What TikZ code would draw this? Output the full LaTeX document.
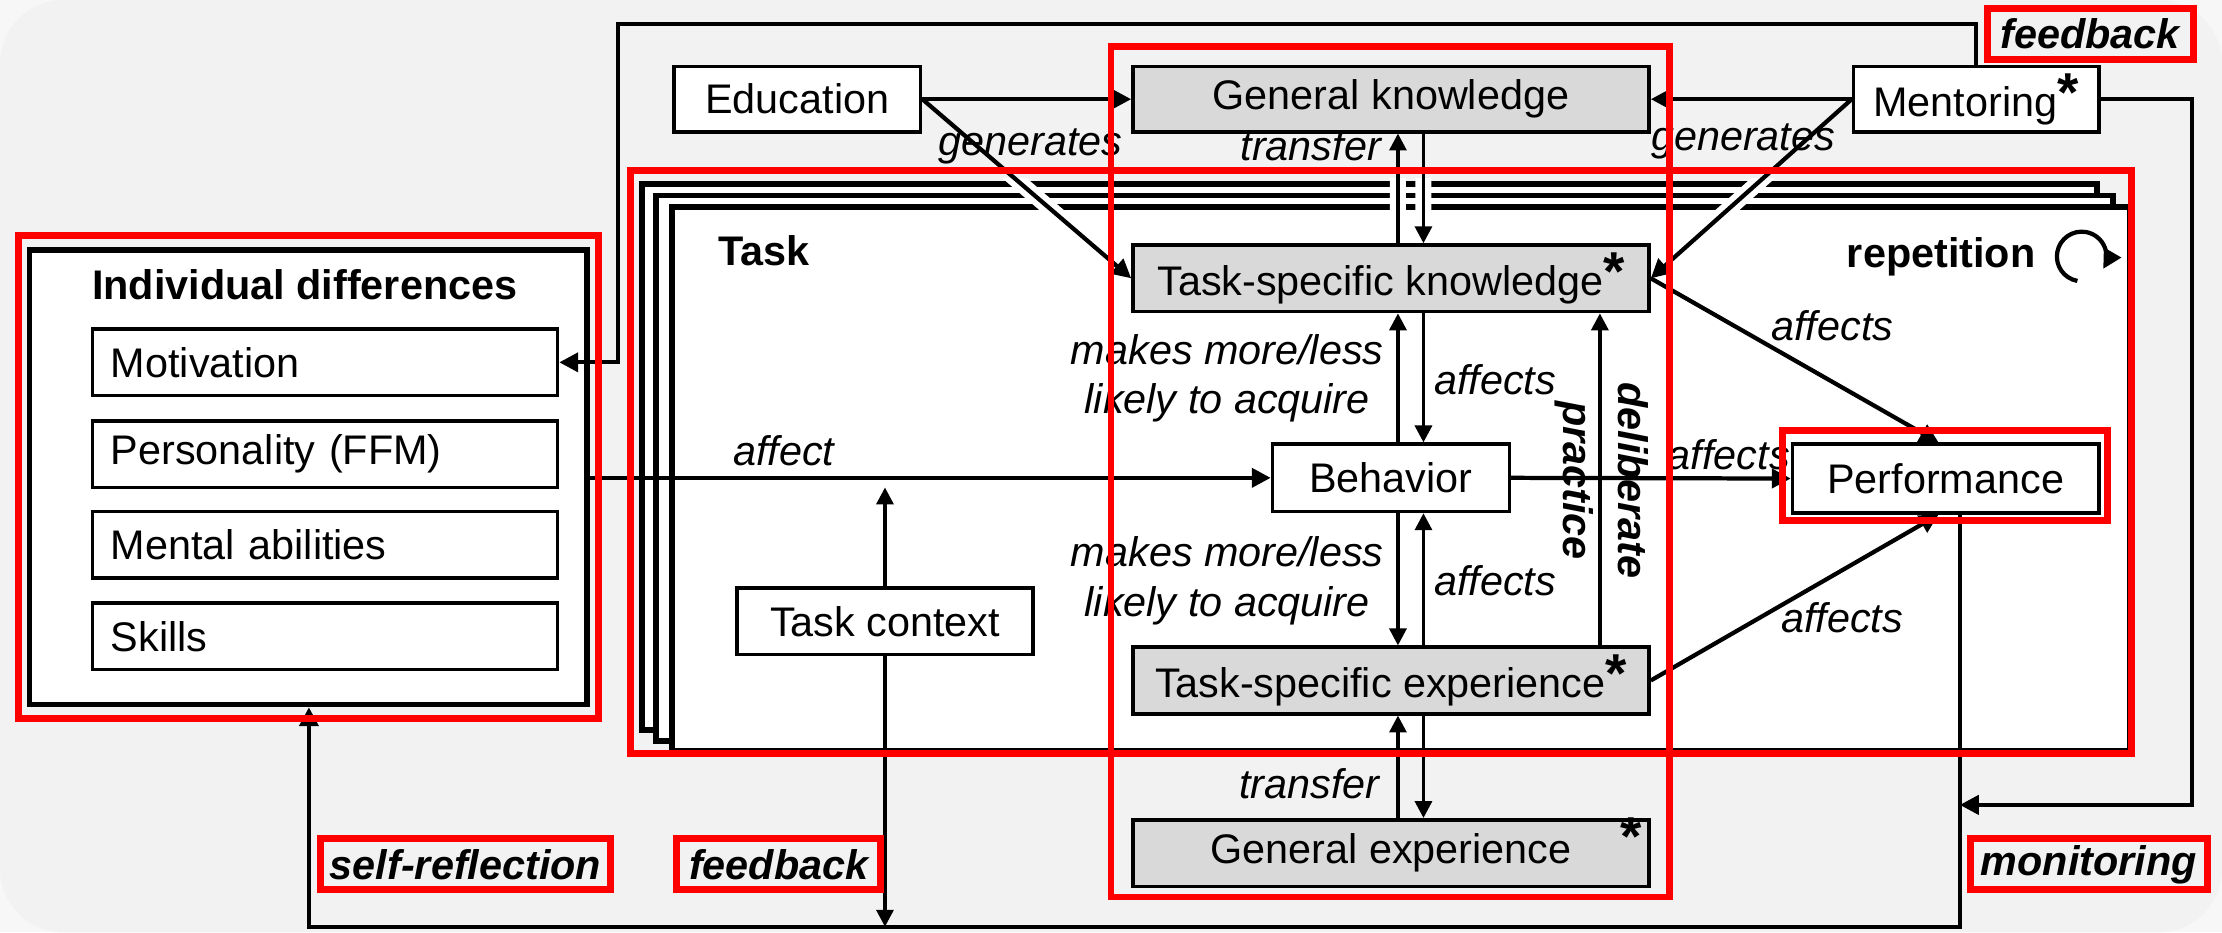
\documentclass[tikz,border=0pt]{standalone}
\usepackage{fontspec}
\setmainfont{Liberation Sans}
\usetikzlibrary{arrows.meta,calc}
\definecolor{bgout}{HTML}{F7F7F7}
\definecolor{bgin}{HTML}{F2F2F2}
\definecolor{boxgray}{HTML}{D9D9D9}
\newcommand\astk{\raisebox{0.25ex}{\fontsize{11}{11}\selectfont\bfseries *}}
\begin{document}
\begin{tikzpicture}[x=0.01cm,y=-0.01cm,
  every node/.style={font=\fontsize{8.3}{10}\selectfont},
  box/.style={draw, line width=0.7pt, fill=white, inner sep=0pt, minimum height=0.47cm},
  gbox/.style={box, fill=boxgray, minimum width=3.64cm},
  sub/.style={box, anchor=west, text width=3.02cm, inner xsep=0.13cm, align=left},
  stackrect/.style={draw, line width=1.15pt, fill=white},
  lbl/.style={font=\fontsize{8.3}{10}\selectfont\itshape, inner sep=1pt},
  bilbl/.style={font=\fontsize{8.3}{11}\selectfont\bfseries\itshape, inner sep=1pt},
  ttl/.style={font=\fontsize{8.3}{10}\selectfont\bfseries, inner sep=0pt},
  arr/.style={line width=0.7pt, -{Triangle[length=3.4pt,width=3.4pt]}},
  arrm/.style={line width=0.85pt, -{Triangle[length=3.8pt,width=3.8pt]}},
  redbox/.style={draw=red, line width=1.4pt},
  redlbl/.style={redbox, font=\fontsize{8.3}{10}\selectfont\bfseries\itshape, inner sep=0pt, minimum height=0.36cm}
]
% background
\fill[bgout] (0,0) rectangle (1568,658);
\fill[bgin, rounded corners=0.45cm] (0,0) rectangle (1568,658);
\useasboundingbox (0,0) rectangle (1568,658);

% task stack
\draw[stackrect] (453,130) rectangle (1480,515);
\draw[stackrect] (463,138) rectangle (1491,523);
\draw[stackrect] (474,146) rectangle (1503,530);
\node[ttl, anchor=west] (tasklbl) at (506,177) {Task};
\node[ttl, anchor=east] (replbl) at (1437,181) {repetition};
\coordinate (repc) at (1469,181);
\draw[line width=0.85pt, -{Triangle[length=3.8pt,width=3.8pt]}] ([shift={(-100:0.175cm)}]repc) arc[start angle=-100, end angle=-390, radius=0.175cm];

% individual differences
\node[draw, line width=1.15pt, fill=white, inner sep=0pt, minimum width=3.93cm, minimum height=3.205cm] (idbox) at (217.5,336.75) {};
\node[ttl] (idt) at (215,201) {Individual differences};
\node[sub] (motiv) at (64,255.7) {Motivation};
\node[sub] (pers) at (64,320.5) {Personality (FFM)};
\node[sub] (mabil) at (64,384.3) {Mental abilities};
\node[sub] (skills) at (64,449.1) {Skills};

% main nodes
\node[box, minimum width=1.74cm, minimum height=0.46cm] (edu) at (562.6,70) {Education};
\node[gbox, minimum height=0.46cm] (gk) at (981.6,70) {General knowledge};
\node[box, minimum width=1.73cm, minimum height=0.46cm] (ment) at (1394.5,70) {Mentoring\astk};
\node[gbox] (tsk) at (981.6,196.4) {Task-specific knowledge\astk};
\node[box, minimum width=1.67cm, minimum height=0.475cm] (beh) at (981.5,337.2) {Behavior};
\node[gbox] (tse) at (981.6,480.2) {Task-specific experience\astk};
\node[gbox] (ge) at (981.6,602) {General experience};
\node[inner sep=0pt] (gestar) at (1151,592) {\astk};
\node[box, minimum width=2.16cm, minimum height=0.485cm] (perf) at (1373,337.7) {Performance};
\node[box, minimum width=2.09cm] (tc) at (624.5,438.5) {Task context};

% coordinates
\coordinate (cL) at (986.5,0);
\coordinate (cR) at (1004.5,0);
\coordinate (cD) at (1129,0);
\coordinate (pa) at (1368,0);
\coordinate (tl) at (436,17);
\coordinate (rr) at (1547,568);
\coordinate (mon) at (1383,568);
\coordinate (bl) at (218,654);
\coordinate (br) at (1383,654);
\coordinate (tcup) at (624.5,344);

% white halos where arrows cross the stack
\begin{scope}
\clip (440,126) rectangle (1520,152);
\draw[white, line width=3.2pt] (edu.east) -- (tsk.west) (ment.west) -- (tsk.east)
  (tsk.north -| cL) -- (gk.south -| cL) (gk.south -| cR) -- (tsk.north -| cR);
\end{scope}

% connectors
\draw[arrm] (edu.east) -- (gk.west);
\draw[arrm] (ment.west) -- (gk.east);
\draw[arrm] (edu.east) -- (tsk.west);
\draw[arrm] (ment.west) -- (tsk.east);
\draw[arr] (tsk.north -| cL) -- (gk.south -| cL);
\draw[arr] (gk.south -| cR) -- (tsk.north -| cR);
\draw[arr] (beh.north -| cL) -- (tsk.south -| cL);
\draw[arr] (tsk.south -| cR) -- (beh.north -| cR);
\draw[arr] (beh.south -| cL) -- (tse.north -| cL);
\draw[arr] (tse.north -| cR) -- (beh.south -| cR);
\draw[arr] (ge.north -| cL) -- (tse.south -| cL);
\draw[arr] (tse.south -| cR) -- (ge.north -| cR);
\draw[arr] (tse.north -| cD) -- (tsk.south -| cD);
\draw[arrm] (idbox.east |- beh.west) -- (beh.west);
\draw[arrm] (beh.east) -- (perf.west);
\draw[arrm] (tsk.east) -- (perf.north -| pa);
\draw[arrm] (tse.east) -- (perf.south -| pa);
\draw[arr] (tc.north) -- (tcup);
\draw[arr] (tc.south) -- (tc.south |- bl);
\draw[arrm] (perf.south -| br) -- (br) -- (bl) -- (idbox.south -| bl);
\draw[arrm] (ment.north) |- (tl) |- (motiv.east);
\draw[arrm] (ment.east) -| (rr) -- (mon);

% labels
\node[lbl] (gen1) at (727,103) {generates};
\node[lbl] (gen2) at (1230,100) {generates};
\node[lbl] (tr1) at (925,103) {transfer};
\node[lbl] (tr2) at (924,553) {transfer};
\node[lbl] (aff0) at (553,318) {affect};
\node[lbl, align=center] (mk1) at (866,267) {makes more/less\\likely to acquire};
\node[lbl, align=center] (mk2) at (866,410) {makes more/less\\likely to acquire};
\node[lbl] (af1) at (1055,268) {affects};
\node[lbl] (af2) at (1055,410) {affects};
\node[lbl] (af3) at (1220,321) {affects};
\node[lbl] (af4) at (1293,230) {affects};
\node[lbl] (af5) at (1300,436) {affects};
\node[bilbl, rotate=-90, align=center] (dp) at (1130,339) {deliberate\\practice};

% red highlight boxes
\draw[redbox] (784,33) rectangle (1178,633);
\draw[redbox] (445,120) rectangle (1504,532);
\draw[redbox] (13,166) rectangle (422,507);
\draw[redbox] (1258,304) rectangle (1487,367);
\node[redlbl, minimum width=1.45cm] (fbtop) at (1475,24) {feedback};
\node[redlbl, minimum width=2.04cm] (selfr) at (328.5,610) {self-reflection};
\node[redlbl, minimum width=1.44cm] (fbbot) at (549.5,610) {feedback};
\node[redlbl, minimum width=1.67cm] (moni) at (1474,610) {monitoring};
\end{tikzpicture}
\end{document}
